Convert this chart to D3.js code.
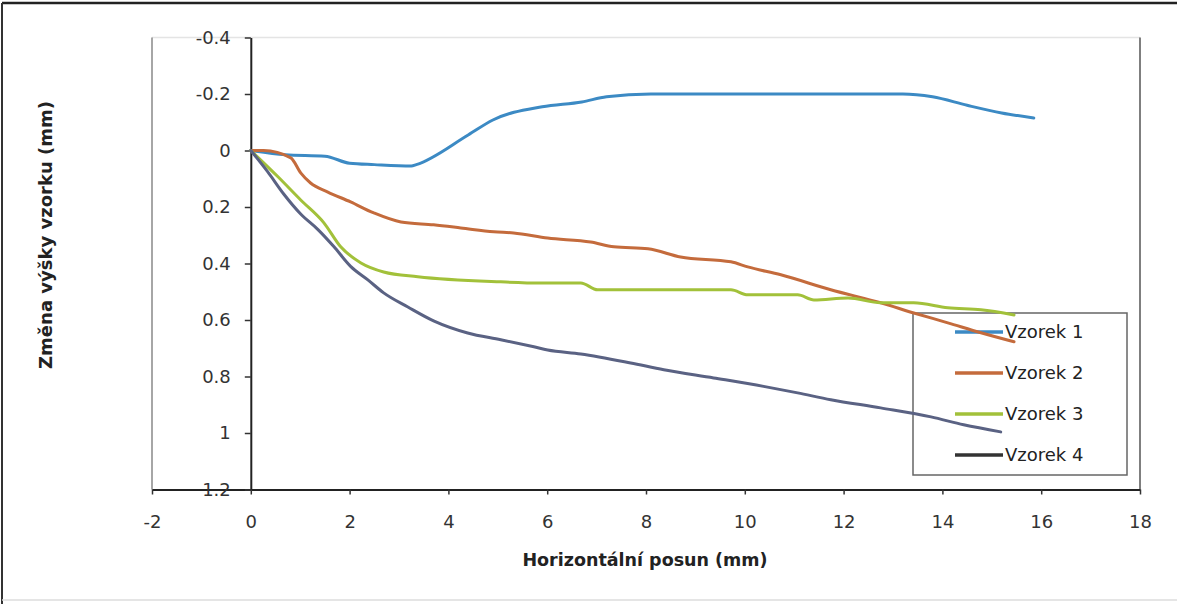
<!DOCTYPE html>
<html>
<head>
<meta charset="utf-8">
<script src="https://cdn.jsdelivr.net/npm/d3@7"></script>
<style>
    body { margin: 0; background: #fff; }
    svg { display: block; font-family: "DejaVu Sans", sans-serif; }
</style>
</head>
<body>
<svg width="1177" height="604"></svg>
<script>
// series data (x: horizontal shift mm, y: height change mm)
var seriesNames = ["Vzorek 1", "Vzorek 2", "Vzorek 3", "Vzorek 4"];
var seriesColors = ["#3c8ac4", "#c46b3c", "#a2c13a", "#5a6283"];

var x1 = [0, 0.7, 1.5, 2.0, 2.5, 3.25, 3.35, 4.4, 4.9, 5.9, 6.7, 7.2, 8.1, 10, 12, 13.2, 13.8, 14.5, 15.2, 15.85];
var y1 = [0, 0.015, 0.02, 0.045, 0.05, 0.055, 0.05, -0.055, -0.108, -0.155, -0.172, -0.19, -0.2, -0.2, -0.2, -0.2, -0.19, -0.16, -0.133, -0.115];

var x2 = [0, 0.26, 0.81, 1.01, 1.21, 1.56, 2.02, 2.49, 3.04, 3.7, 4.25, 4.92, 5.32, 6.01, 6.88, 7.35, 8.04, 8.7, 9.72, 10.06, 10.73, 11.74, 12.75, 13.42, 14.11, 14.78, 15.45];
var y2 = [0, 0, 0.026, 0.079, 0.115, 0.147, 0.182, 0.221, 0.253, 0.263, 0.274, 0.288, 0.292, 0.31, 0.324, 0.341, 0.348, 0.377, 0.394, 0.412, 0.44, 0.493, 0.539, 0.575, 0.61, 0.645, 0.677];

var x3 = [0, 0.55, 1.01, 1.48, 1.82, 2.23, 2.69, 3.38, 5.06, 5.87, 6.68, 7.02, 8.36, 9.72, 10.06, 11.07, 11.4, 12.09, 12.75, 13.42, 14.11, 14.78, 15.45];
var y3 = [0, 0.093, 0.175, 0.256, 0.341, 0.398, 0.43, 0.447, 0.465, 0.469, 0.469, 0.493, 0.493, 0.493, 0.511, 0.511, 0.529, 0.522, 0.539, 0.539, 0.557, 0.564, 0.582];

var x4 = [0, 0.34, 0.67, 1.01, 1.36, 1.68, 2.02, 2.37, 2.69, 3.18, 3.7, 4.39, 5.06, 5.73, 6.01, 6.68, 7.69, 8.36, 9.37, 10.38, 11.07, 11.74, 12.75, 13.77, 14.43, 15.18];
var y4 = [0, 0.075, 0.155, 0.225, 0.28, 0.34, 0.41, 0.458, 0.504, 0.554, 0.603, 0.646, 0.67, 0.695, 0.706, 0.72, 0.752, 0.776, 0.805, 0.835, 0.858, 0.882, 0.911, 0.943, 0.971, 0.996];

var xTicks = [-2, 0, 2, 4, 6, 8, 10, 12, 14, 16, 18];
var yTicks = [-0.4, -0.2, 0, 0.2, 0.4, 0.6, 0.8, 1, 1.2];

function render() {
    var svg = d3.select("svg");

    var x = d3.scaleLinear().domain([-2, 18]).range([152, 1140]);
    var y = d3.scaleLinear().domain([-0.4, 1.2]).range([37.5, 489.5]);

    // outer frame
    svg.append("line").attr("x1", 2).attr("y1", 3).attr("x2", 1177).attr("y2", 3)
        .attr("stroke", "#222").attr("stroke-width", 2.5);
    svg.append("line").attr("x1", 2).attr("y1", 3).attr("x2", 2).attr("y2", 604)
        .attr("stroke", "#333").attr("stroke-width", 2);
    svg.append("line").attr("x1", 2).attr("y1", 600).attr("x2", 1177).attr("y2", 600)
        .attr("stroke", "#ddd").attr("stroke-width", 1.5);

    // plot area border
    svg.append("line").attr("x1", x(-2)).attr("y1", y(-0.4)).attr("x2", x(18)).attr("y2", y(-0.4))
        .attr("stroke", "#e4e4e4").attr("stroke-width", 1.5);
    svg.append("line").attr("x1", x(-2)).attr("y1", y(-0.4)).attr("x2", x(-2)).attr("y2", y(1.2))
        .attr("stroke", "#888").attr("stroke-width", 1.5);
    svg.append("line").attr("x1", x(18)).attr("y1", y(-0.4)).attr("x2", x(18)).attr("y2", y(1.2))
        .attr("stroke", "#555").attr("stroke-width", 1.5);

    var fmt = function (d) { return String(+d.toFixed(1)); };

    var xAxis = svg.append("g")
        .attr("transform", "translate(0," + y(1.2) + ")")
        .call(d3.axisBottom(x).tickValues(xTicks).tickFormat(fmt).tickSize(5).tickPadding(21).tickSizeOuter(0));

    var yAxis = svg.append("g")
        .attr("transform", "translate(" + x(0) + ",0)")
        .call(d3.axisLeft(y).tickValues(yTicks).tickFormat(fmt).tickSize(6).tickPadding(14).tickSizeOuter(0));

    [xAxis, yAxis].forEach(function (a) {
        a.select(".domain").attr("stroke", "#222").attr("stroke-width", 2);
        a.selectAll(".tick line").attr("stroke", "#333").attr("stroke-width", 1.5);
        a.selectAll(".tick text")
            .attr("fill", "#333")
            .style("font-size", "18px")
            .style("font-family", "'DejaVu Sans', sans-serif");
    });

    // axis titles
    svg.append("text")
        .attr("x", 645)
        .attr("y", 566)
        .attr("text-anchor", "middle")
        .attr("fill", "#222")
        .style("font-size", "17.5px")
        .style("font-weight", "bold")
        .text("Horizontální posun (mm)");

    svg.append("text")
        .attr("transform", "translate(52,235) rotate(-90)")
        .attr("text-anchor", "middle")
        .attr("fill", "#222")
        .style("font-size", "18px")
        .style("font-weight", "bold")
        .text("Změna výšky vzorku (mm)");

    // legend (no fill, lines show through)
    var legend = svg.append("g").attr("transform", "translate(913,313)");
    legend.append("rect")
        .attr("width", 214)
        .attr("height", 162)
        .attr("fill", "none")
        .attr("stroke", "#666")
        .attr("stroke-width", 1.5);

    var xs = [x1, x2, x3, x4];
    var ys = [y1, y2, y3, y4];

    var line = d3.line()
        .x(function (d) { return x(d[0]); })
        .y(function (d) { return y(d[1]); })
        .curve(d3.curveMonotoneX);

    seriesNames.forEach(function (name, k) {
        var pts = d3.zip(xs[k], ys[k]);
        svg.append("path")
            .datum(pts)
            .attr("d", line)
            .attr("fill", "none")
            .attr("stroke", seriesColors[k])
            .attr("stroke-width", 3)
            .attr("stroke-linejoin", "round")
            .attr("stroke-linecap", "round");

        var row = legend.append("g").attr("transform", "translate(0," + (19 + k * 41) + ")");
        row.append("line")
            .attr("x1", 42).attr("x2", 90)
            .attr("stroke", k === 3 ? "#333" : seriesColors[k])
            .attr("stroke-width", 3.5);
        row.append("text")
            .attr("x", 92)
            .attr("dy", "0.36em")
            .attr("fill", "#222")
            .style("font-size", "18px")
            .text(name);
    });
}

render();
</script>
</body>
</html>
